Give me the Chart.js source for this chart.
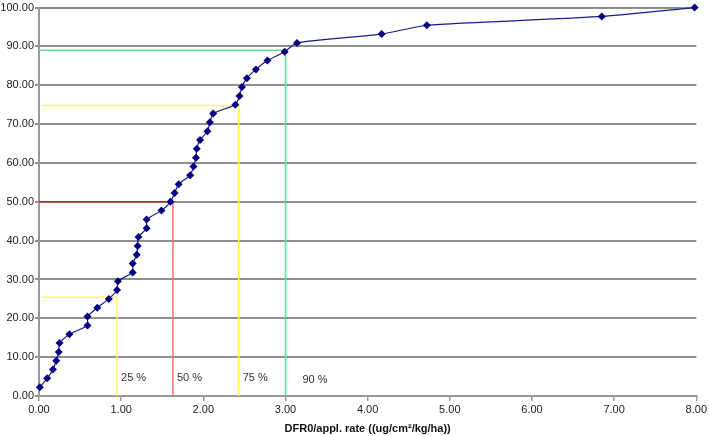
<!DOCTYPE html>
<html>
<head>
<meta charset="utf-8">
<script src="https://cdn.jsdelivr.net/npm/chart.js@4/dist/chart.umd.min.js"></script>
<style>
  html, body { margin: 0; padding: 0; background: #fff; }
  #wrap { width: 709px; height: 436px; }
</style>
</head>
<body>
<div id="wrap"><canvas id="cdf"></canvas></div>
<script>
/* ---------------- DATA ---------------- */
// DFR0 / application rate, sorted
const ratioX = [
  0.01, 0.10, 0.17, 0.21, 0.24, 0.25, 0.37, 0.59, 0.59, 0.71,
  0.85, 0.95, 0.96, 1.14, 1.14, 1.19, 1.20, 1.21, 1.31, 1.31,
  1.49, 1.60, 1.65, 1.70, 1.84, 1.88, 1.91, 1.92, 1.96, 2.05,
  2.08, 2.12, 2.39, 2.44, 2.47, 2.53, 2.64, 2.78, 2.99, 3.14,
  4.17, 4.72, 6.85, 7.98
];
// cumulative percentage
const cumPct = [
  2.27, 4.55, 6.82, 9.09, 11.36, 13.64, 15.91, 18.18, 20.45, 22.73,
  25.00, 27.27, 29.55, 31.82, 34.09, 36.36, 38.64, 40.91, 43.18, 45.45,
  47.73, 50.00, 52.27, 54.55, 56.82, 59.09, 61.36, 63.64, 65.91, 68.18,
  70.45, 72.73, 75.00, 77.27, 79.55, 81.82, 84.09, 86.36, 88.64, 90.91,
  93.18, 95.45, 97.73, 100.00
];

// percentile guide lines
const pctLabels = ["25 %", "50 %", "75 %", "90 %"];
const cutStartX = [0.03, 0, 0.03, 0];
const cutX      = [0.95, 1.63, 2.43, 3.00];
const cutY      = [25.4, 50.0, 74.8, 89.0];

const xTicks = [0, 1, 2, 3, 4, 5, 6, 7, 8];

/* --------------- STYLE ---------------- */
const FONT = "Arial, 'Liberation Sans', sans-serif";
const guideH = ["#ffff55", "#cc2222", "#ffff55", "#66dd99"];
const guideV = ["#ffff55", "#ff6b6b", "#ffff55", "#66dd99"];
const labelDx = [4, 4, 4, 17];
const labelDy = [0, 0, 0, 2];

const mainSet = {
  data: ratioX.map((x, i) => ({ x, y: cumPct[i] })),
  borderColor: "#1a1a8c",
  backgroundColor: "#000080",
  borderWidth: 1.2,
  pointStyle: "rectRot",
  pointRadius: 4,
  pointBorderWidth: 0,
  tension: 0.2,
  clip: false,
  order: 0
};

const guideSets = cutX.map((cx, i) => ({
  data: [{ x: cutStartX[i], y: cutY[i] }, { x: cx, y: cutY[i] }, { x: cx, y: 0 }],
  borderColor: guideH[i],
  borderWidth: 1.5,
  pointRadius: 0,
  tension: 0,
  segment: { borderColor: ctx => ctx.p0DataIndex === 0 ? guideH[i] : guideV[i] },
  order: 1
}));

/* label plugin for the percentile text */
const pctText = {
  id: "pctText",
  afterDatasetsDraw(chart) {
    const { ctx, scales: { x, y } } = chart;
    ctx.save();
    ctx.font = "11px " + FONT;
    ctx.fillStyle = "#333";
    ctx.textBaseline = "middle";
    pctLabels.forEach((t, i) => {
      ctx.fillText(t, x.getPixelForValue(cutX[i]) + labelDx[i], y.getPixelForValue(0) - 18 + labelDy[i]);
    });
    ctx.restore();
  }
};

/* ---------------- CHART --------------- */
new Chart(document.getElementById("cdf"), {
  type: "line",
  data: { datasets: [mainSet, ...guideSets] },
  plugins: [pctText],
  options: {
    responsive: true,
    maintainAspectRatio: false,
    animation: false,
    layout: { padding: { top: 7, right: 10, left: 0, bottom: 0 } },
    plugins: { legend: { display: false }, tooltip: { enabled: false } },
    scales: {
      x: {
        type: "linear",
        min: 0, max: 8,
        afterBuildTicks: s => { s.ticks = xTicks.map(v => ({ value: v })); },
        afterFit: s => { s.height = 40; },
        ticks: { color: "#222", font: { family: FONT, size: 11 }, padding: 2, maxRotation: 0,
                 callback: v => Number(v).toFixed(2) },
        grid: { drawOnChartArea: false, drawTicks: true, tickLength: 5, color: "#999", lineWidth: 1.5 },
        border: { display: true, color: "#999", width: 2 },
        title: { display: true, text: "DFR0/appl. rate ((ug/cm²/kg/ha))",
                 color: "#111", font: { family: FONT, size: 11, weight: "bold" }, padding: { top: 1, bottom: 0 } }
      },
      y: {
        min: 0, max: 100,
        afterFit: s => { s.width = 39; },
        ticks: { stepSize: 10, color: "#222", font: { family: FONT, size: 11 }, padding: 1,
                 callback: v => Number(v).toFixed(2) },
        grid: { color: "#8f8f8f", lineWidth: 2, drawTicks: true, tickLength: 4 },
        border: { display: true, color: "#999", width: 2 }
      }
    }
  }
});
</script>
</body>
</html>
